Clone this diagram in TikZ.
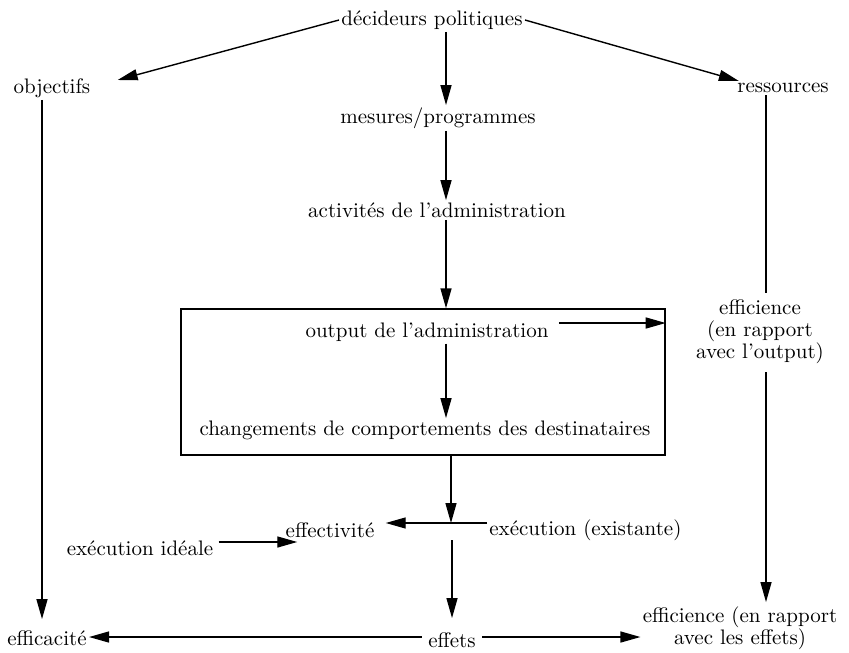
\documentclass[tikz,border=0pt]{standalone}
\usepackage{fontspec}
\usetikzlibrary{arrows.meta,fit}
\tikzset{
  lbl/.style={inner sep=1pt, font=\fontsize{10.5}{11}\selectfont},
  arr/.style={-{Triangle[length=10pt,width=5.5pt]}, line width=0.7pt},
  ln/.style={line width=0.7pt}
}
\begin{document}
\begin{tikzpicture}[x=0.5pt,y=-0.5pt]
\useasboundingbox (0,0) rectangle (849,652);
% axes of the columns
\coordinate (axis) at (446,0);
\coordinate (laxis) at (42,0);
\coordinate (raxis) at (766,0);
% top
\node[lbl] (dec) at (432,20) {décideurs politiques};
\node[lbl] (obj) at (52,88) {objectifs};
\node[lbl] (res) at (783,88) {ressources};
\node[lbl] (mes) at (438,118) {mesures/programmes};
\node[lbl] (act) at (437,210) {activités de l'administration};
% box
\node[draw, ln, inner sep=0, fit={(181,309) (665,455)}] (outbox) {};
\node[lbl] (outp) at (427,332) {output de l'administration};
\node[lbl] (chg) at (425,430) {changements de comportements des destinataires};
\node[lbl, align=center] (effout) at (760,332) {efficience\\(en rapport\\avec l'output)};
% bottom
\coordinate (junc) at (451,523);
\node[lbl] (eff) at (330,530) {effectivité};
\node[lbl, anchor=west] (exreal) at (487,530) {exécution (existante)};
\node[lbl] (ideal) at (140,548) {exécution idéale};
\node[lbl] (effic) at (47,638) {efficacité};
\node[lbl] (effets) at (452,640) {effets};
\node[lbl, align=center] (effeff) at (740,628) {efficience (en rapport\\avec les effets)};
% arrows
\draw[arr] (dec.west) -- ([shift={(25,-8)}]obj.east);
\draw[arr] (dec.east) -- ([shift={(4,-7)}]res.west);
\draw[arr] (dec.south -| axis) -- (mes.north -| axis);
\draw[arr] (mes.south -| axis) -- (act.north -| axis);
\draw[arr] (act.south -| axis) -- (outbox.north -| axis);
\draw[arr] (outp.south -| axis) -- (chg.north -| axis);
\path ([shift={(8,-9)}]outp.east) coordinate (outa);
\draw[arr] (outa) -- (outa -| outbox.east);
\draw[arr] (outbox.south -| junc) -- (junc);
\draw[arr, shorten >=4.5pt] (exreal.west |- junc) -- (eff.east |- junc);
\draw[arr, shorten >=6pt] ([shift={(1,17)}]junc) -- (effets.north);
\path ([shift={(3,-6)}]ideal.east) coordinate (ida);
\draw[arr, shorten >=-7pt] (ida) -- (ida -| eff.west);
\path ([shift={(-4,-3)}]effets.west) coordinate (ew);
\path ([shift={(4,-3)}]effets.east) coordinate (ee);
\draw[arr] (ew) -- (ew -| effic.east);
\draw[arr] (ee) -- (ee -| effeff.west);
\draw[arr, shorten >=4.5pt] (obj.south -| laxis) -- (effic.north -| laxis);
\draw[ln, shorten >=2.5pt] (res.south -| raxis) -- (effout.north -| raxis);
\draw[arr, shorten <=3pt, shorten >=1pt] (effout.south -| raxis) -- (effeff.north -| raxis);
\end{tikzpicture}
\end{document}
